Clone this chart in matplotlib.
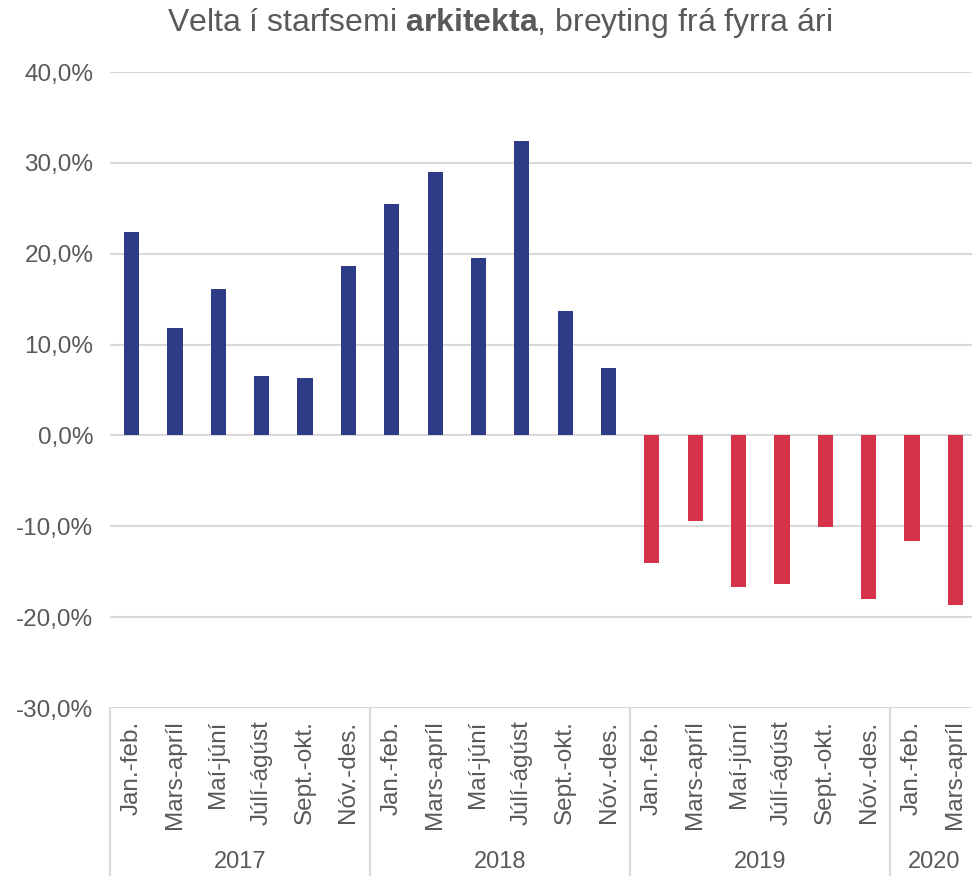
import matplotlib.pyplot as plt
from matplotlib.ticker import FuncFormatter
import matplotlib.transforms as mtransforms

plt.rcParams['font.family'] = ['Liberation Sans', 'DejaVu Sans']
plt.rcParams['mathtext.fontset'] = 'custom'
plt.rcParams['mathtext.rm'] = 'Liberation Sans'
plt.rcParams['mathtext.bf'] = 'Liberation Sans:bold'

periods = ['Jan.-feb.', 'Mars-apríl', 'Maí-júní', 'Júlí-ágúst', 'Sept.-okt.', 'Nóv.-des.'] * 3 + ['Jan.-feb.', 'Mars-apríl']
years = ['2017', '2018', '2019', '2020']
year_sizes = [6, 6, 6, 2]
values = [22.4, 11.8, 16.1, 6.5, 6.3, 18.7,
          25.5, 29.0, 19.5, 32.4, 13.7, 7.4,
          -14.0, -9.4, -16.7, -16.3, -10.1, -18.0,
          -11.6, -18.7]

text_color = '#595959'
grid_color = '#D9D9D9'
blue = '#2E3B87'
red = '#D6334A'

fig = plt.figure(figsize=(9.72, 8.76), dpi=100)
ax = fig.add_axes([110 / 972, 168 / 876, 867 / 972, 636 / 876])

x = list(range(len(values)))
colors = [blue if v >= 0 else red for v in values]
ax.bar(x, values, width=0.35, color=colors, zorder=3)

ax.set_ylim(-30, 40)
ax.set_xlim(-0.5, len(values) - 0.5)
ax.set_yticks(range(-30, 41, 10))
ax.yaxis.set_major_formatter(FuncFormatter(lambda v, p: f'{v:.1f}%'.replace('.', ',')))
ax.grid(axis='y', color=grid_color, linewidth=1.5, zorder=0)
for s in ax.spines.values():
    s.set_visible(False)
ax.tick_params(axis='y', length=0, labelsize=17.5, labelcolor=text_color, pad=12)
ax.set_xticks(x)
ax.set_xticklabels(periods, rotation=90, fontsize=17.5, color=text_color)
ax.tick_params(axis='x', length=0, pad=9)

trans = mtransforms.blended_transform_factory(ax.transData, ax.transAxes)
bottom = -168 / 636
start = 0
bounds = [-0.5]
for yr, n in zip(years, year_sizes):
    center = start + (n - 1) / 2
    ax.text(center, -0.242, yr, transform=trans, ha='center', va='center',
            fontsize=17, color=text_color)
    start += n
    bounds.append(start - 0.5)
for b in bounds[:-1]:
    ax.plot([b, b], [0, bottom], transform=trans, color=grid_color,
            linewidth=1.5, clip_on=False)

fig.text(0.514, 0.974, 'Velta í starfsemi $\\bf{arkitekta}$, breyting frá fyrra ári',
         ha='center', va='center', fontsize=23, color=text_color)

fig.savefig('out.png', dpi=100)
